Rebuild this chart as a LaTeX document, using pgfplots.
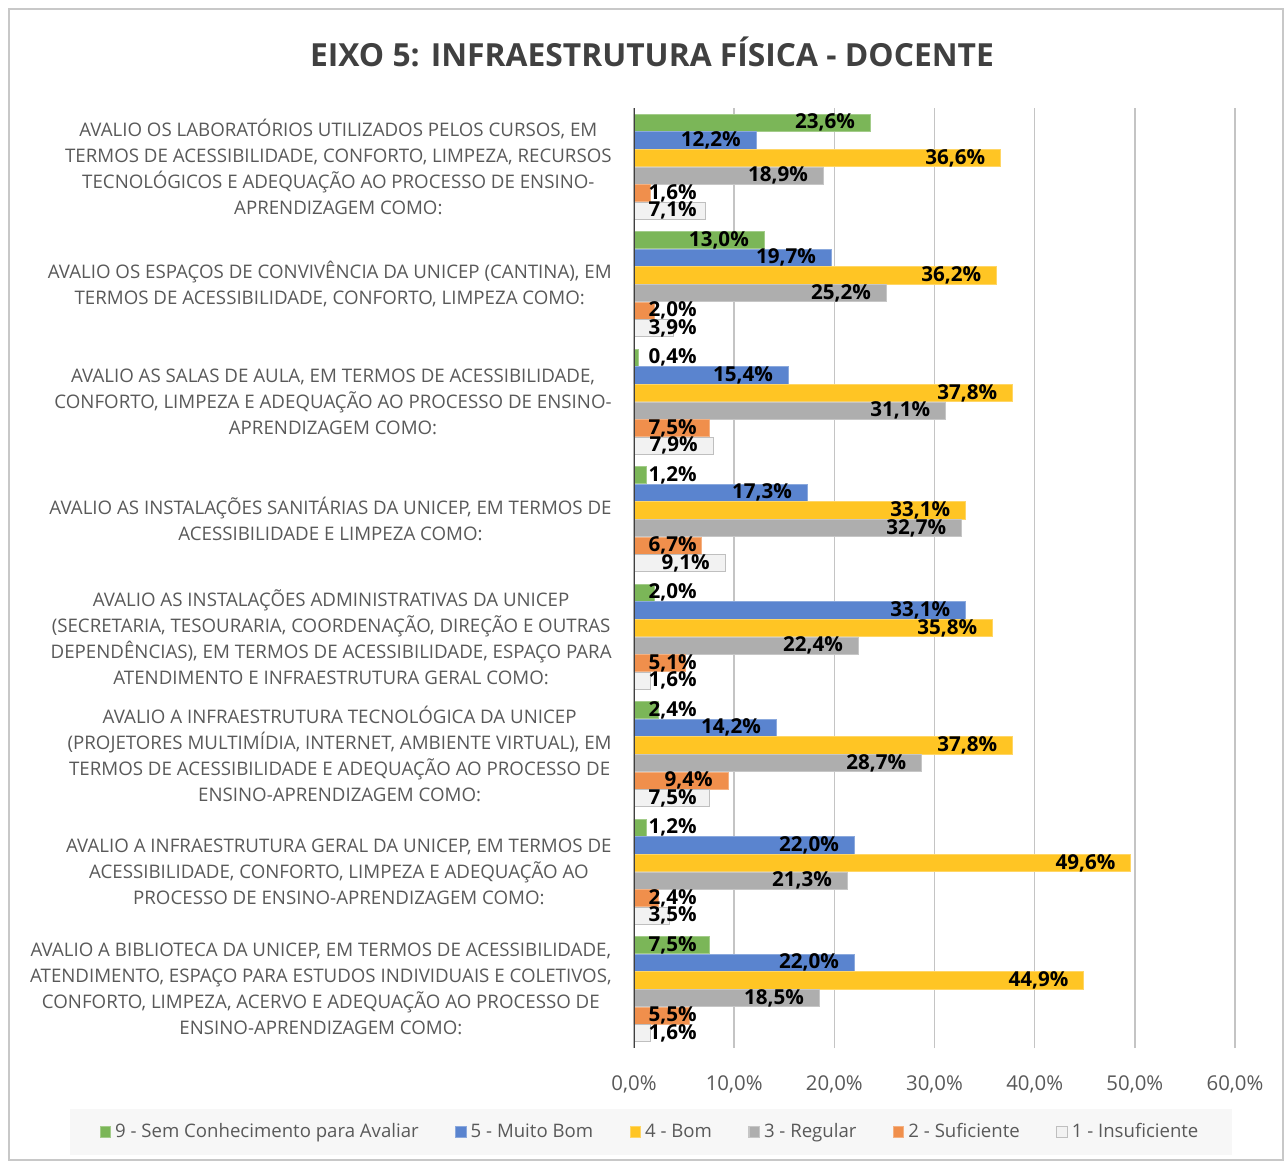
\documentclass[border=0pt]{standalone}
\usepackage{pgfplots}
\pgfplotsset{compat=1.18}
\usepackage{pgfplotstable}
\usepackage{fontspec}
\setmainfont{Open Sans}

\definecolor{cgreen}{HTML}{7BB658}
\definecolor{cblue}{HTML}{5A84CF}
\definecolor{cyellow}{HTML}{FFC524}
\definecolor{cgray}{HTML}{AEAEAE}
\definecolor{corange}{HTML}{F08F4C}
\definecolor{cwhite}{HTML}{F2F2F2}
\definecolor{cwhiteb}{HTML}{BFBFBF}
\definecolor{textgray}{HTML}{595959}
\definecolor{titlegray}{HTML}{404040}
\definecolor{gridgray}{HTML}{C4C4C4}
\definecolor{framegray}{HTML}{C8C8C8}
\definecolor{legendbg}{HTML}{F7F7F7}

\pgfplotstableread{
pos s9 s5 s4 s3 s2 s1
7 23.6 12.2 36.6 18.9 1.6 7.1
6 13.0 19.7 36.2 25.2 2.0 3.9
5 0.4 15.4 37.8 31.1 7.5 7.9
4 1.2 17.3 33.1 32.7 6.7 9.1
3 2.0 33.1 35.8 22.4 5.1 1.6
2 2.4 14.2 37.8 28.7 9.4 7.5
1 1.2 22.0 49.6 21.3 2.4 3.5
0 7.5 22.0 44.9 18.5 5.5 1.6
}\datatable

\pgfplotsset{sqlegend/.style={legend image code/.code={\draw[##1,line width=0.6pt] (0pt,-2.6pt) rectangle (5.2pt,2.6pt);}}}

\begin{document}
\begin{tikzpicture}
\begin{axis}[
  name=ax,
  scale only axis, width=300.5pt, height=470pt,
  xbar, bar width=8.6pt, bar shift=0pt,
  xmin=0, xmax=60, ymin=-0.5, ymax=7.5,
  axis line style={draw=none},
  major tick length=0pt,
  xtick={0,10,...,60},
  /pgf/number format/assume math mode=true,
  xticklabel={\pgfmathprintnumber[fixed,fixed zerofill,precision=1,use comma]{\tick}\%},
  xticklabel style={anchor=base, yshift=-21pt, inner sep=0pt, font=\fontsize{10.2}{12}\selectfont, text=textgray},
  xmajorgrids=true,
  major grid style={color=gridgray, line width=0.8pt},
  ytick={0,1,2,3,4,5,6,7},
  yticklabels={
   {AVALIO A BIBLIOTECA DA UNICEP, EM TERMOS DE ACESSIBILIDADE,\\ATENDIMENTO, ESPAÇO PARA ESTUDOS INDIVIDUAIS E COLETIVOS,\\CONFORTO, LIMPEZA, ACERVO E ADEQUAÇÃO AO PROCESSO DE\\ENSINO-APRENDIZAGEM COMO:},
   {AVALIO A INFRAESTRUTURA GERAL DA UNICEP, EM TERMOS DE\\ACESSIBILIDADE, CONFORTO, LIMPEZA E ADEQUAÇÃO AO\\PROCESSO DE ENSINO-APRENDIZAGEM COMO:},
   {AVALIO A INFRAESTRUTURA TECNOLÓGICA DA UNICEP\\(PROJETORES MULTIMÍDIA, INTERNET, AMBIENTE VIRTUAL), EM\\TERMOS DE ACESSIBILIDADE E ADEQUAÇÃO AO PROCESSO DE\\ENSINO-APRENDIZAGEM COMO:},
   {AVALIO AS INSTALAÇÕES ADMINISTRATIVAS DA UNICEP\\(SECRETARIA, TESOURARIA, COORDENAÇÃO, DIREÇÃO E OUTRAS\\DEPENDÊNCIAS), EM TERMOS DE ACESSIBILIDADE, ESPAÇO PARA\\ATENDIMENTO E INFRAESTRUTURA GERAL COMO:},
   {AVALIO AS INSTALAÇÕES SANITÁRIAS DA UNICEP, EM TERMOS DE\\ACESSIBILIDADE E LIMPEZA COMO:},
   {AVALIO AS SALAS DE AULA, EM TERMOS DE ACESSIBILIDADE,\\CONFORTO, LIMPEZA E ADEQUAÇÃO AO PROCESSO DE ENSINO-\\APRENDIZAGEM COMO:},
   {AVALIO OS ESPAÇOS DE CONVIVÊNCIA DA UNICEP (CANTINA), EM\\TERMOS DE ACESSIBILIDADE, CONFORTO, LIMPEZA COMO:},
   {AVALIO OS LABORATÓRIOS UTILIZADOS PELOS CURSOS, EM\\TERMOS DE ACESSIBILIDADE, CONFORTO, LIMPEZA, RECURSOS\\TECNOLÓGICOS E ADEQUAÇÃO AO PROCESSO DE ENSINO-\\APRENDIZAGEM COMO:}
  },
  yticklabel style={align=center, anchor=east, inner sep=0pt, xshift=-11pt, font=\fontsize{9.35}{13}\selectfont, text=textgray},
  point meta=x,
  visualization depends on={x \as \myx},
  nodes near coords={\pgfmathprintnumber[fixed,fixed zerofill,precision=1,use comma]{\pgfplotspointmeta}\%},
  every node near coord/.append style={anchor=east, inner sep=0pt, text=black,
     font=\fontsize{10.3}{12}\selectfont\bfseries,
     xshift={max(-7.5,31.5-5.0083*\myx)}},
  legend columns=6,
  legend cell align=left,
  legend style={at={(axis description cs:0.0283,-0.0894)}, anchor=center,
     draw=none, fill=legendbg, font=\fontsize{9.3}{12}\selectfont, text=textgray,
     inner xsep=15pt, inner ysep=5pt,
     /tikz/every even column/.append style={column sep=16.2pt}},
]
\addplot[fill=cgreen, draw=cgreen!70!white, sqlegend] table[x=s9, y expr=\thisrow{pos}+0.3745] {\datatable};
\addlegendentry{9 - Sem Conhecimento para Avaliar}
\addplot[fill=cblue, draw=cblue!70!white, sqlegend] table[x=s5, y expr=\thisrow{pos}+0.2247] {\datatable};
\addlegendentry{5 - Muito Bom}
\addplot[fill=cyellow, draw=cyellow!70!white, sqlegend] table[x=s4, y expr=\thisrow{pos}+0.0749] {\datatable};
\addlegendentry{4 - Bom}
\addplot[fill=cgray, draw=cgray!70!white, sqlegend] table[x=s3, y expr=\thisrow{pos}-0.0749] {\datatable};
\addlegendentry{3 - Regular}
\addplot[fill=corange, draw=corange!70!white, sqlegend] table[x=s2, y expr=\thisrow{pos}-0.2247] {\datatable};
\addlegendentry{2 - Suficiente}
\addplot[fill=cwhite, draw=cwhiteb, sqlegend] table[x=s1, y expr=\thisrow{pos}-0.3745] {\datatable};
\addlegendentry{1 - Insuficiente}
\draw[titlegray, line width=1.5pt] (rel axis cs:0,0) -- (rel axis cs:0,1);
\end{axis}
\node[anchor=base, font=\fontsize{15.9}{18}\selectfont\bfseries, text=titlegray] at ([xshift=9pt,yshift=490.5pt]ax.south west) {EIXO 5: INFRAESTRUTURA FÍSICA - DOCENTE};
\draw[framegray, line width=0.75pt] ([xshift=-312.5pt,yshift=-56pt]ax.south west) rectangle ([xshift=324.5pt,yshift=519.5pt]ax.south west);
\pgfresetboundingbox
\path ([xshift=-317pt,yshift=-57pt]ax.south west) rectangle ([xshift=325.5pt,yshift=524pt]ax.south west);
\end{tikzpicture}
\end{document}
